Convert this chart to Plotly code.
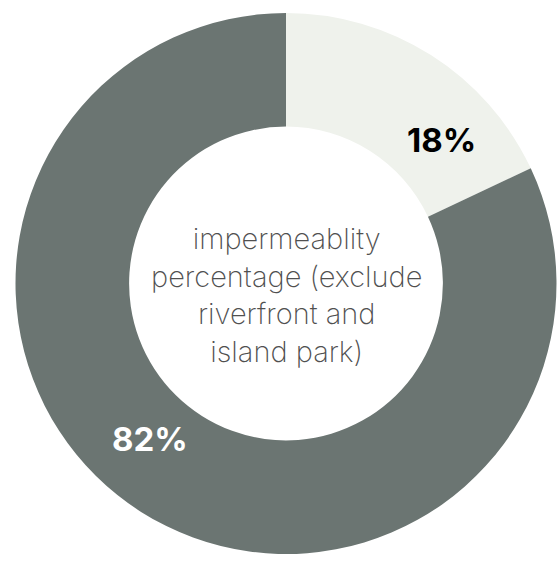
import plotly.graph_objects as go

labels = ["pervious", "impervious"]
values = [18, 82]
colors = ["#eff2ec", "#6b7572"]
text_colors = ["#000000", "#ffffff"]
pct_text = [f"{v}%" for v in values]
center_text = "impermeablity<br>percentage (exclude<br>riverfront and<br>island park)"

W, H = 558, 561

fig = go.Figure(go.Pie(
    labels=labels,
    values=values,
    hole=0.58,
    sort=False,
    direction="clockwise",
    rotation=0,
    marker=dict(colors=colors, line=dict(width=0)),
    textinfo="none",
    showlegend=False,
    hoverinfo="label+percent",
    domain=dict(x=[15 / W, 557 / W], y=[1 - 554 / H, 1 - 13 / H]),
))

# percentage labels on the ring
label_pos = [(441, 140), (150, 439)]
for txt, col, (px, py) in zip(pct_text, text_colors, label_pos):
    fig.add_annotation(
        text=txt, x=px / W, y=1 - py / H, xref="paper", yref="paper",
        showarrow=False, xanchor="center", yanchor="middle",
        font=dict(family="Inter", size=33, color=col, weight=700),
    )

fig.add_annotation(
    text=center_text,
    x=286 / W, y=1 - 295 / H, xref="paper", yref="paper",
    showarrow=False,
    font=dict(family="Inter", size=29, color="#505050", weight=200),
    align="center",
)

fig.update_layout(
    width=W, height=H,
    margin=dict(l=0, r=0, t=0, b=0),
    paper_bgcolor="white",
    plot_bgcolor="white",
)

fig.write_html(
    "out.html",
    config={"displayModeBar": False},
    post_script="document.body.style.margin='0';document.body.style.overflow='hidden';",
)
